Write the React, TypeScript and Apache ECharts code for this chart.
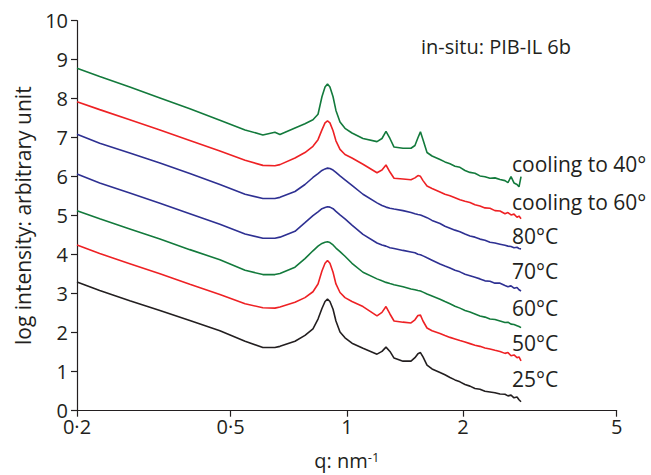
import React, { useEffect, useRef } from "react";
import * as echarts from "echarts";

// q (nm^-1) sampling positions shared by all curves
const Q = [0.2, 0.229, 0.274, 0.328, 0.392, 0.469, 0.545, 0.606, 0.651, 0.671, 0.734, 0.779, 0.817, 0.842, 0.862, 0.878, 0.891, 0.904, 0.921, 0.937, 0.96, 0.989, 1.031, 1.101, 1.197, 1.233, 1.263, 1.293, 1.325, 1.398, 1.466, 1.501, 1.528, 1.551, 1.575, 1.613, 1.662, 1.743, 1.795, 1.85, 1.906, 1.963, 2.023, 2.084, 2.147, 2.212, 2.279, 2.348, 2.419, 2.493, 2.568, 2.614, 2.662, 2.71, 2.759, 2.792, 2.826];

const COOL40 = [8.78, 8.57, 8.3, 8.02, 7.74, 7.45, 7.2, 7.07, 7.14, 7.08, 7.25, 7.36, 7.46, 7.6, 8.05, 8.3, 8.38, 8.3, 8.05, 7.7, 7.4, 7.24, 7.12, 6.98, 6.9, 6.98, 7.16, 6.98, 6.76, 6.73, 6.73, 6.8, 7.0, 7.15, 6.95, 6.62, 6.53, 6.44, 6.38, 6.33, 6.27, 6.24, 6.16, 6.11, 6.09, 6.02, 6.0, 5.96, 5.97, 5.93, 5.9, 5.85, 6.0, 5.84, 5.8, 5.74, 6.0];
const COOL60 = [7.92, 7.72, 7.46, 7.2, 6.93, 6.66, 6.42, 6.29, 6.28, 6.31, 6.48, 6.62, 6.78, 6.95, 7.2, 7.38, 7.43, 7.38, 7.18, 6.92, 6.7, 6.57, 6.48, 6.32, 6.1, 6.17, 6.3, 6.12, 5.96, 5.94, 5.92, 5.97, 6.03, 6.01, 5.9, 5.76, 5.7, 5.61, 5.55, 5.51, 5.46, 5.41, 5.37, 5.34, 5.28, 5.25, 5.2, 5.19, 5.13, 5.12, 5.05, 5.08, 5.02, 5.04, 4.96, 4.99, 4.92];
const T80 = [7.09, 6.86, 6.61, 6.35, 6.08, 5.8, 5.55, 5.44, 5.44, 5.47, 5.62, 5.8, 5.98, 6.08, 6.16, 6.2, 6.22, 6.21, 6.17, 6.11, 6.02, 5.92, 5.78, 5.55, 5.33, 5.26, 5.22, 5.19, 5.17, 5.13, 5.08, 5.05, 5.03, 5.02, 4.99, 4.95, 4.88, 4.8, 4.73, 4.68, 4.63, 4.59, 4.53, 4.48, 4.45, 4.4, 4.37, 4.32, 4.3, 4.27, 4.24, 4.22, 4.21, 4.18, 4.19, 4.16, 4.15];
const T70 = [6.07, 5.84, 5.58, 5.32, 5.05, 4.78, 4.53, 4.42, 4.42, 4.45, 4.6, 4.82, 5.0, 5.1, 5.18, 5.21, 5.23, 5.22, 5.18, 5.11, 5.02, 4.92, 4.76, 4.52, 4.3, 4.25, 4.22, 4.18, 4.16, 4.11, 4.07, 4.05, 4.01, 4.0, 3.97, 3.92, 3.86, 3.76, 3.71, 3.66, 3.6, 3.56, 3.5, 3.46, 3.42, 3.38, 3.33, 3.32, 3.27, 3.27, 3.21, 3.18, 3.2, 3.14, 3.16, 3.1, 3.07];
const T60 = [5.13, 4.92, 4.66, 4.4, 4.13, 3.87, 3.6, 3.49, 3.49, 3.52, 3.68, 3.9, 4.1, 4.22, 4.29, 4.32, 4.33, 4.31, 4.25, 4.17, 4.08, 3.96, 3.78, 3.55, 3.38, 3.33, 3.29, 3.26, 3.23, 3.18, 3.12, 3.1, 3.08, 3.07, 3.04, 2.99, 2.94, 2.86, 2.8, 2.74, 2.68, 2.63, 2.57, 2.53, 2.48, 2.43, 2.4, 2.35, 2.34, 2.3, 2.26, 2.27, 2.22, 2.21, 2.18, 2.16, 2.13];
const T50 = [4.25, 4.03, 3.77, 3.51, 3.24, 2.98, 2.74, 2.64, 2.63, 2.66, 2.78, 2.9, 3.05, 3.25, 3.58, 3.78, 3.85, 3.78, 3.55, 3.25, 3.03, 2.9, 2.8, 2.67, 2.43, 2.52, 2.67, 2.48, 2.3, 2.27, 2.25, 2.33, 2.44, 2.45, 2.3, 2.12, 2.05, 1.98, 1.93, 1.88, 1.84, 1.8, 1.76, 1.72, 1.68, 1.65, 1.61, 1.58, 1.55, 1.52, 1.47, 1.49, 1.41, 1.43, 1.36, 1.38, 1.28];
const T25 = [3.3, 3.08, 2.82, 2.57, 2.31, 2.05, 1.78, 1.62, 1.62, 1.65, 1.78, 1.93, 2.1, 2.35, 2.62, 2.8, 2.86, 2.8, 2.6, 2.3, 2.02, 1.87, 1.73, 1.6, 1.45, 1.52, 1.63, 1.52, 1.35, 1.27, 1.27, 1.36, 1.46, 1.49, 1.38, 1.17, 1.07, 0.98, 0.92, 0.85, 0.79, 0.74, 0.67, 0.63, 0.57, 0.55, 0.5, 0.48, 0.46, 0.43, 0.42, 0.38, 0.4, 0.33, 0.35, 0.28, 0.23];

const SERIES_NAMES = ["cooling to 40°", "cooling to 60°", "80°C", "70°C", "60°C", "50°C", "25°C"];
const SERIES_VALUES = [COOL40, COOL60, T80, T70, T60, T50, T25];

const X_TICKS = [0.2, 0.5, 1, 2, 5];
const X_TICK_LABELS = ["0·2", "0·5", "1", "2", "5"];
const Y_TICKS = [0, 1, 2, 3, 4, 5, 6, 7, 8, 9, 10];

const TITLE = "in-situ: PIB-IL 6b";
const Y_NAME = "log intensity: arbitrary unit";

// styles
const COLORS = ["#137a3c", "#ee2124", "#2e3092", "#2e3092", "#137a3c", "#ee2124", "#231f20"];
const LABEL_OFFSETS = [[-9, -13], [-9, -17], [-9, -13], [-9, -20], [-9, -20], [-9, -18], [-9, -23]];
const FONT = "'Open Sans', 'Noto Sans', sans-serif";
const TEXT = "#231f20";

export default function App() {
  const ref = useRef<HTMLDivElement>(null);
  useEffect(() => {
    if (!ref.current) return;
    const chart = echarts.init(ref.current, undefined, { renderer: "svg" });
    const xMin = Math.log10(X_TICKS[0]);
    const xMax = Math.log10(X_TICKS[X_TICKS.length - 1]);
    const tickVals = X_TICKS.map((v) => Math.log10(v));
    const fmtX = (v: number) => {
      let best = 0;
      for (let i = 0; i < tickVals.length; i++) {
        if (Math.abs(tickVals[i] - v) < Math.abs(tickVals[best] - v)) best = i;
      }
      return X_TICK_LABELS[best];
    };
    chart.setOption({
      animation: false,
      backgroundColor: "#ffffff",
      grid: { left: 77, right: 34.3, top: 20.7, bottom: 64.3, containLabel: false, outerBoundsMode: "none" },
      graphic: [
        {
          type: "text",
          x: 421,
          y: 46,
          style: { text: TITLE, fill: TEXT, font: `20px ${FONT}`, verticalAlign: "middle", align: "left" },
        },
      ],
      xAxis: {
        type: "value",
        min: xMin,
        max: xMax,
        name: "q: nm{sup|-1}",
        nameLocation: "middle",
        nameGap: 40,
        nameTextStyle: {
          color: TEXT,
          fontSize: 20,
          fontFamily: FONT,
          rich: { sup: { fontSize: 13, verticalAlign: "top", color: TEXT, fontFamily: FONT, lineHeight: 12 } },
        },
        axisLine: { show: true, onZero: false, lineStyle: { color: TEXT, width: 1.2 } },
        axisTick: { show: true, length: 6, customValues: tickVals, lineStyle: { color: TEXT, width: 1.2 } },
        axisLabel: {
          customValues: tickVals,
          formatter: fmtX,
          color: TEXT,
          fontSize: 20,
          lineHeight: 16,
          fontFamily: FONT,
          margin: 8,
        },
        splitLine: { show: false },
      },
      yAxis: {
        type: "value",
        min: Y_TICKS[0],
        max: Y_TICKS[Y_TICKS.length - 1],
        interval: 1,
        name: Y_NAME,
        nameLocation: "middle",
        nameGap: 44,
        nameTextStyle: { color: TEXT, fontSize: 21, fontFamily: FONT },
        axisLine: { show: true, onZero: false, lineStyle: { color: TEXT, width: 1.2 } },
        axisTick: { show: true, length: 6, lineStyle: { color: TEXT, width: 1.2 } },
        axisLabel: { color: TEXT, fontSize: 20, lineHeight: 14, fontFamily: FONT, margin: 9 },
        splitLine: { show: false },
      },
      series: SERIES_VALUES.map((vals, si) => ({
        type: "line",
        name: SERIES_NAMES[si],
        data: Q.map((q, i) => [Math.log10(q), vals[i]]),
        showSymbol: false,
        symbol: "none",
        smooth: false,
        lineStyle: { color: COLORS[si], width: 1.6 },
        itemStyle: { color: COLORS[si] },
        endLabel: {
          show: true,
          formatter: SERIES_NAMES[si],
          color: TEXT,
          fontSize: 21,
          fontFamily: FONT,
          align: "left",
          verticalAlign: "middle",
          distance: 0,
          offset: LABEL_OFFSETS[si],
        },
      })),
    });
    return () => chart.dispose();
  }, []);
  return <div ref={ref} style={{ position: "absolute", left: 0, top: 0, width: 651, height: 475 }} />;
}
